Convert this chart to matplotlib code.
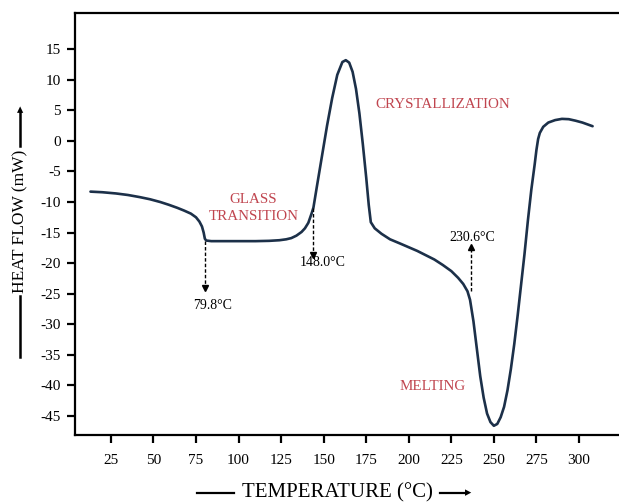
import matplotlib
matplotlib.use("Agg")
import matplotlib.pyplot as plt
from matplotlib.lines import Line2D

# DSC curve
temperature = [13, 20, 28, 35, 42, 48, 54, 59, 64, 68, 72, 75, 77, 78.5, 79.5, 80.2, 81, 84, 90,
               100, 110, 118, 124, 128, 131, 134, 137, 139, 141, 143, 144, 146, 149, 152, 155,
               158, 161, 163, 165, 167, 169, 171, 173, 175, 176.5, 177.7, 180, 184, 189, 195,
               200, 205, 210, 215, 220, 225, 229, 232, 234.5, 236, 238, 240, 242, 244, 246,
               248, 250, 252, 254, 256, 258, 260, 262, 264, 266, 268, 270, 272, 274, 275, 276,
               277, 279, 282, 286, 290, 294, 298, 302, 306, 308]
heat_flow = [-8.3, -8.4, -8.6, -8.85, -9.2, -9.55, -10.0, -10.45, -10.95, -11.4, -11.9, -12.5,
             -13.2, -14.0, -15.0, -16.0, -16.3, -16.4, -16.4, -16.4, -16.4, -16.35, -16.25,
             -16.1, -15.9, -15.5, -14.9, -14.3, -13.4, -11.8, -10.9, -7.5, -2.5, 2.5, 7.0,
             10.8, 12.9, 13.2, 12.8, 11.3, 8.5, 4.5, -0.5, -6.0, -10.5, -13.3, -14.3, -15.2,
             -16.1, -16.8, -17.4, -18.0, -18.7, -19.4, -20.3, -21.3, -22.4, -23.4, -24.6,
             -26.0, -29.5, -34.0, -38.5, -42.0, -44.6, -46.0, -46.6, -46.3, -45.2, -43.5,
             -40.8, -37.3, -33.2, -28.5, -23.5, -18.5, -13.0, -8.0, -3.8, -1.5, 0.3, 1.3,
             2.3, 3.0, 3.4, 3.6, 3.55, 3.3, 3.0, 2.6, 2.4]

x_ticks = [25, 50, 75, 100, 125, 150, 175, 200, 225, 250, 275, 300]
y_ticks = [15, 10, 5, 0, -5, -10, -15, -20, -25, -30, -35, -40, -45]

# region labels: (text, x, y)
regions = [("GLASS\nTRANSITION", 108.7, -11.0),
           ("CRYSTALLIZATION", 220, 6.0),
           ("MELTING", 214, -40.1)]

# transition markers: (label, x, arrow start y, arrow end y, label x, label y)
markers = [("79.8°C", 80.3, -16.3, -24.0, 85.0, -27.0),
           ("148.0°C", 144.0, -10.9, -18.6, 149.5, -19.9),
           ("230.6°C", 236.5, -24.6, -17.4, 237.5, -15.8)]

line_color = "#1c3049"
label_color = "#c0454f"
serif = ["Liberation Serif", "DejaVu Serif"]

plt.rcParams["font.family"] = serif
plt.rcParams["axes.unicode_minus"] = False
fig = plt.figure(figsize=(6.19, 5.04), dpi=100)
ax = fig.add_axes([0.121, 0.137, 0.885, 0.837])

ax.plot(temperature, heat_flow, color=line_color, lw=1.9, solid_capstyle="round")

for text, x, y in regions:
    ax.text(x, y, text, color=label_color, fontsize=10.8, ha="center", va="center",
            linespacing=1.45)

for text, x, y0, y1, tx, ty in markers:
    ax.plot([x, x], [y0, y1], color="black", lw=1.0, ls=(0, (2.5, 1.5)))
    ax.plot([x], [y1], marker="v" if y1 < y0 else "^", color="black", ms=4)
    ax.text(tx, ty, text, fontsize=10, ha="center", va="center")

ax.set_xlim(3.85, 325.7)
ax.set_ylim(-48.1, 20.9)
ax.set_xticks(x_ticks)
ax.set_yticks(y_ticks)
ax.tick_params(axis="both", direction="out", length=6, width=1.6, labelsize=11, pad=4)
ax.tick_params(axis="x", pad=8)
for side in ["left", "top", "bottom"]:
    ax.spines[side].set_linewidth(1.6)
ax.spines["right"].set_visible(False)

W, H = 619, 504


def fx(px):
    return px / W


def fy(py):
    return 1 - py / H


# x axis title with leading line and trailing arrow
fig.text(fx(337), fy(493), "TEMPERATURE (°C)", fontsize=15, ha="center", va="center")
fig.add_artist(Line2D([fx(197), fx(234)], [fy(493), fy(493)], color="black", lw=1.6))
fig.add_artist(Line2D([fx(440), fx(466)], [fy(493), fy(493)], color="black", lw=1.6))
fig.text(fx(468), fy(493), "▸", fontsize=9, ha="center", va="center",
         family=["DejaVu Sans"])

# y axis title with leading line and trailing arrow
fig.text(fx(20), fy(221), "HEAT FLOW (mW)", fontsize=12.5, ha="center", va="center",
         rotation=90)
fig.add_artist(Line2D([fx(20), fx(20)], [fy(357), fy(296)], color="black", lw=1.8))
fig.add_artist(Line2D([fx(20), fx(20)], [fy(146), fy(112)], color="black", lw=1.8))
fig.text(fx(20), fy(110), "▴", fontsize=9, ha="center", va="center",
         family=["DejaVu Sans"])

fig.savefig("out.png", dpi=100)
